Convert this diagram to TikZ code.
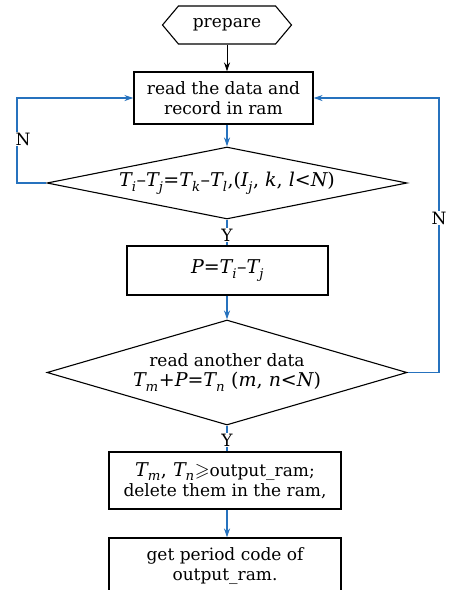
\documentclass[tikz,border=0pt]{standalone}
\usepackage{amssymb}
\usepackage{amsmath}
\usepackage{fontspec}
\setmainfont{DejaVu Serif}
\usetikzlibrary{shapes.geometric,shapes.symbols,arrows.meta}
\definecolor{flowblue}{RGB}{38,114,190}
% larger size for the formulas, letters and signs taken from the text font
\newcommand{\mathbig}{\fontsize{19}{20}\selectfont}
\newcommand{\ital}[1]{\textit{#1}}
\newcommand{\op}[1]{\text{#1}}
% subscript set a little lower than usual
\newcommand{\lsub}[1]{_{\text{\raisebox{-0.3ex}{\itshape #1}}}}
\tikzset{
  base/.style={font=\fontsize{17}{20}\selectfont, align=center, inner sep=0pt},
  procbox/.style={base, draw, line width=1.1pt},
  decision/.style={base, draw, diamond, line width=1.1pt},
  hexa/.style={base, draw, signal, signal to=east and west, signal pointer angle=100, line width=1.1pt},
  blackarr/.style={line width=1pt, -{Stealth[length=9pt,width=6pt,inset=3pt]}},
  bluearr/.style={line width=1.1pt, draw=flowblue, -{Stealth[length=9pt,width=6pt,inset=3pt]}},
  blueline/.style={line width=1.1pt, draw=flowblue},
  lab/.style={base, fill=white, inner sep=1pt}
}
\begin{document}
\begin{tikzpicture}[x=1pt,y=-1pt]
\useasboundingbox (0,0) rectangle (452,590);
\clip (0,0) rectangle (452,590);
\fill[white] (0,0) rectangle (452,590);

% flow steps
\node[hexa, minimum width=129pt, minimum height=38pt] (prep) at (227,25) {prepare};
\node[procbox, minimum width=179pt, minimum height=52pt] (read) at (223.5,98) {read the data and\\record in ram};
\node[decision, shape aspect=5, minimum width=360pt, minimum height=72pt] (d1) at (227,183)
  {\mathbig$\ital{T}\lsub{i}\op{–}\ital{T}\lsub{j}\op{=}\ital{T}\lsub{k}\op{–}\ital{T}\lsub{l}\op{,(}\ital{I}\lsub{j}\op{, }\ital{k}\op{, }\ital{l}\op{<}\ital{N}\op{)}$};
\node[procbox, minimum width=201pt, minimum height=49pt] (pdef) at (227.5,270.5)
  {\mathbig$\ital{P}\op{=}\ital{T}\lsub{i}\op{–}\ital{T}\lsub{j}$};
\node[decision, shape aspect=3.4, minimum width=360pt, minimum height=105pt] (d2) at (227,372.5)
  {read another data\\{\mathbig$\ital{T}\lsub{m}\op{+}\ital{P}\op{=}\ital{T}\lsub{n}\op{ (}\ital{m}\op{, }\ital{n}\op{<}\ital{N}\op{)}$}};
\node[procbox, minimum width=232pt, minimum height=57pt] (outp) at (225,480.5)
  {{\mathbig$\ital{T}\lsub{m}$, $\ital{T}\lsub{n}{\geqslant}$}output\_ram;\\delete them in the ram,};
\node[procbox, minimum width=232pt, minimum height=57pt] (code) at (225,566.5)
  {get period code of\\output\_ram.};

% guide lines for the two return loops
\coordinate (lft) at (17,0);
\coordinate (rgt) at (439,0);

% connectors
\draw[blackarr] (prep.south) -- (prep.south |- read.north);
\draw[bluearr] (read.south -| d1.north) -- (d1.north);
\draw[blueline] (d1.south) -- (d1.south |- pdef.north);
\draw[bluearr] (pdef.south -| d2.north) -- (d2.north);
\draw[blueline] (d2.south) -- (d2.south |- outp.north);
\draw[bluearr] (outp.south -| d2.south) -- (d2.south |- code.north);
\draw[bluearr] (d1.west) -- (d1.west -| lft) |- (read.west);
\draw[bluearr] (d2.east) -- (d2.east -| rgt) |- (read.east);

% branch labels
\node[lab] (y1) at (227,235) {Y};
\node[lab] (y2) at (227,440) {Y};
\node[lab] (n1) at (23,139) {N};
\node[lab] (n2) at (439,218) {N};
\end{tikzpicture}
\end{document}
